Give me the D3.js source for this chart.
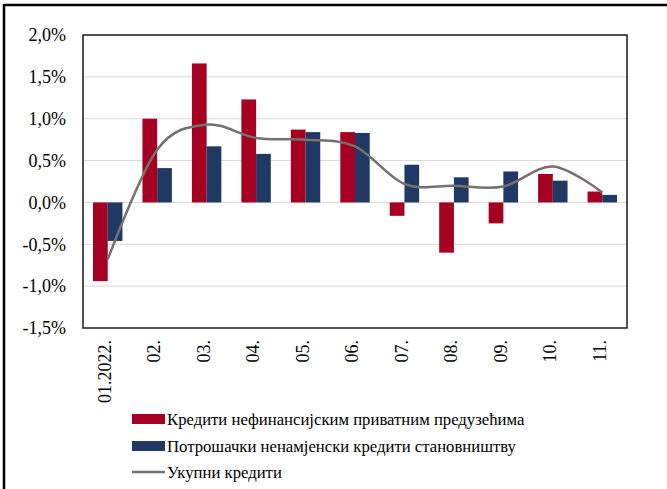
<!DOCTYPE html>
<html>
<head>
<meta charset="utf-8">
<script src="https://cdn.jsdelivr.net/npm/d3@7"></script>
<style>
  body { margin: 0; background: #fff; }
  svg { display: block; font-family: 'Liberation Serif', 'Times New Roman', serif; }
</style>
</head>
<body>
<svg id="chart" width="667" height="489"></svg>
<script>
// months (x categories)
const months = ['01.2022.', '02.', '03.', '04.', '05.', '06.', '07.', '08.', '09.', '10.', '11.'];
// monthly growth, %
const corporate = [-0.94, 1.00, 1.66, 1.23, 0.87, 0.84, -0.16, -0.60, -0.25, 0.34, 0.13];
const consumer  = [-0.46, 0.41, 0.67, 0.58, 0.84, 0.83, 0.45, 0.30, 0.37, 0.26, 0.09];
const total     = [-0.68, 0.63, 0.93, 0.77, 0.75, 0.67, 0.22, 0.20, 0.19, 0.43, 0.12];
const yTicks = [-1.5, -1.0, -0.5, 0, 0.5, 1.0, 1.5, 2.0];

const seriesNames = [
    'Кредити нефинансијским приватним предузећима',
    'Потрошачки ненамјенски кредити становништву',
    'Укупни кредити'
];
const colors = { corporate: '#a50021', consumer: '#1f3864', total: '#767171' };

const svg = d3.select('#chart');
const plot = { left: 83, right: 627, top: 35, bottom: 328 };

const locale = d3.formatLocale({ decimal: ',', thousands: '.', grouping: [3], currency: ['', ''], minus: '-' });
const fmt = locale.format('.1f');

// outer frame (only top and left edges are in view)
svg.append('line').attr('x1', 4).attr('x2', 667).attr('y1', 5).attr('y2', 5)
    .attr('stroke', '#000').attr('stroke-width', 2.5);
svg.append('line').attr('x1', 4).attr('x2', 4).attr('y1', 4).attr('y2', 489)
    .attr('stroke', '#000').attr('stroke-width', 2.5);

const x = d3.scaleBand()
    .domain(months)
    .range([plot.left, plot.right])
    .paddingInner(0.405)
    .paddingOuter(0.2025);

const x1 = d3.scaleBand()
    .domain(['corporate', 'consumer'])
    .range([0, x.bandwidth()]);

const y = d3.scaleLinear()
    .domain([-1.5, 2.0])
    .range([plot.bottom, plot.top]);

// gridlines
svg.append('g')
    .selectAll('line')
    .data(yTicks.filter(v => v > -1.5 && v < 2.0))
    .join('line')
    .attr('x1', plot.left).attr('x2', plot.right)
    .attr('y1', d => y(d)).attr('y2', d => y(d))
    .attr('stroke', '#d9d9d9')
    .attr('stroke-width', 1);

// bars
const rows = months.map((m, i) => ({ month: m, corporate: corporate[i], consumer: consumer[i] }));
const groups = svg.append('g')
    .selectAll('g')
    .data(rows)
    .join('g')
    .attr('transform', d => `translate(${x(d.month)},0)`);

groups.selectAll('rect')
    .data(d => ['corporate', 'consumer'].map(k => ({ key: k, value: d[k] })))
    .join('rect')
    .attr('x', d => x1(d.key))
    .attr('width', x1.bandwidth())
    .attr('y', d => y(Math.max(0, d.value)))
    .attr('height', d => Math.abs(y(d.value) - y(0)))
    .attr('fill', d => colors[d.key]);

// smoothed total line
const line = d3.line()
    .x((d, i) => x(months[i]) + x.bandwidth() / 2)
    .y(d => y(d))
    .curve(d3.curveCatmullRom.alpha(0));

svg.append('path')
    .datum(total)
    .attr('d', line)
    .attr('fill', 'none')
    .attr('stroke', colors.total)
    .attr('stroke-width', 2.5);

// plot border
svg.append('rect')
    .attr('x', plot.left).attr('y', plot.top)
    .attr('width', plot.right - plot.left)
    .attr('height', plot.bottom - plot.top)
    .attr('fill', 'none')
    .attr('stroke', '#1a1a1a')
    .attr('stroke-width', 1.5);

// y axis
const yAxis = svg.append('g')
    .attr('transform', `translate(${plot.left},0)`)
    .call(d3.axisLeft(y).tickValues(yTicks).tickSize(0).tickPadding(17).tickFormat(d => fmt(d) + '%'));
yAxis.select('.domain').remove();
yAxis.selectAll('text')
    .attr('font-family', 'Liberation Serif, serif')
    .attr('font-size', '18px')
    .attr('fill', '#000');

// x axis (rotated labels)
const xAxis = svg.append('g')
    .attr('transform', `translate(0,${plot.bottom})`)
    .call(d3.axisBottom(x).tickSize(0));
xAxis.select('.domain').remove();
xAxis.selectAll('text')
    .attr('font-family', 'Liberation Serif, serif')
    .attr('font-size', '18px')
    .attr('fill', '#000')
    .attr('transform', 'rotate(-90)')
    .attr('text-anchor', 'end')
    .attr('x', -12)
    .attr('y', -3)
    .attr('dy', '0.35em');

// legend
const legend = svg.append('g').attr('transform', 'translate(132,0)');
const legendRows = [
    { name: seriesNames[0], color: colors.corporate, type: 'rect', cy: 419 },
    { name: seriesNames[1], color: colors.consumer, type: 'rect', cy: 446 },
    { name: seriesNames[2], color: colors.total, type: 'line', cy: 472 }
];
legendRows.forEach(r => {
    if (r.type === 'rect') {
        legend.append('rect')
            .attr('x', 0).attr('y', r.cy - 5)
            .attr('width', 33).attr('height', 10)
            .attr('fill', r.color);
    } else {
        legend.append('line')
            .attr('x1', 0).attr('x2', 33)
            .attr('y1', r.cy).attr('y2', r.cy)
            .attr('stroke', r.color).attr('stroke-width', 2.5);
    }
    legend.append('text')
        .attr('x', 35)
        .attr('y', r.cy)
        .attr('dy', '0.33em')
        .attr('font-size', '16.7px')
        .attr('fill', '#000')
        .text(r.name);
});
</script>
</body>
</html>
